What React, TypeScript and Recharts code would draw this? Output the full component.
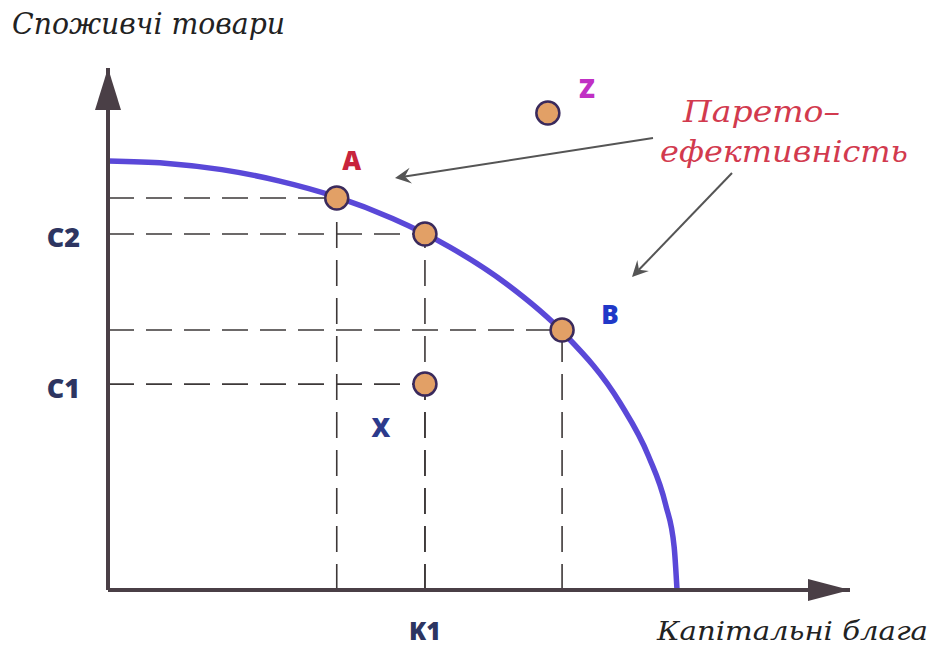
import { ComposedChart, Line, Scatter, XAxis, YAxis, ReferenceLine, ReferenceDot } from 'recharts';

// production possibility frontier
const frontierK = [0, 1, 2, 3, 4, 5, 6, 7, 8, 9, 9.5, 9.8, 9.95, 10];
const frontierC = [10, 9.95, 9.8, 9.54, 9.17, 8.66, 8.0, 7.14, 6.0, 4.36, 3.12, 1.99, 1.0, 0];

const pointNames = ['A', 'K1C2', 'B', 'X', 'Z'];
const pointK = [4.02, 5.57, 7.98, 5.57, 7.73];
const pointC = [9.14, 8.3, 6.06, 4.8, 11.12];
// points that get dashed guides to the axes
const guided = ['A', 'K1C2', 'B', 'X'];

const xTicks = [5.57];
const xTickLabels = ['K1'];
const yTicks = [4.8, 8.3];
const yTickLabels = ['C1', 'C2'];

const xMax = 13.04;
const yMax = 12.17;

const frontier = frontierK.map((k, i) => ({ x: k, y: frontierC[i] }));
const points = pointNames.map((n, i) => ({ name: n, x: pointK[i], y: pointC[i] }));

const labelStyle: Record<string, { dx: number; dy: number; color: string }> = {
  A: { dx: 15, dy: -38, color: '#c8243c' },
  B: { dx: 48, dy: -16, color: '#2038c8' },
  X: { dx: -44, dy: 43, color: '#2c3a8c' },
  Z: { dx: 39, dy: -25, color: '#c030c4' },
};

const axisColor = '#4a3f46';
const tickColor = '#2d3561';
const labelFont = "'Open Sans', sans-serif";

const PointDot = (props: any) => {
  const { cx, cy, payload } = props;
  const lab = labelStyle[payload.name];
  return (
    <g>
      <circle cx={cx} cy={cy} r={11.5} fill="#e2a066" stroke="#3a2a5c" strokeWidth={2.5} />
      {lab && (
        <text x={cx + lab.dx} y={cy + lab.dy} fill={lab.color} fontSize={26} fontWeight={800}
          fontFamily={labelFont} textAnchor="middle" dominantBaseline="central">
          {payload.name}
        </text>
      )}
    </g>
  );
};

const XTick = (props: any) => {
  const { x, y, payload } = props;
  const i = xTicks.indexOf(payload.value);
  return (
    <text x={x} y={y + 40} fill={tickColor} fontSize={25} fontWeight={800}
      fontFamily={labelFont} textAnchor="middle" dominantBaseline="central">
      {xTickLabels[i]}
    </text>
  );
};

const YTick = (props: any) => {
  const { x, y, payload } = props;
  const i = yTicks.indexOf(payload.value);
  return (
    <text x={x - 28} y={y + 3} fill={tickColor} fontSize={27} fontWeight={800}
      fontFamily={labelFont} textAnchor="end" dominantBaseline="central">
      {yTickLabels[i]}
    </text>
  );
};

const XArrow = (props: any) => {
  const { cx, cy } = props;
  return <polygon points={`${cx},${cy} ${cx - 42},${cy - 11} ${cx - 42},${cy + 11}`} fill={axisColor} />;
};

const YArrow = (props: any) => {
  const { cx, cy } = props;
  return <polygon points={`${cx},${cy} ${cx - 13},${cy + 42} ${cx + 13},${cy + 42}`} fill={axisColor} />;
};

// small annotation arrow with notched head
const Pointer = ({ x1, y1, x2, y2 }: { x1: number; y1: number; x2: number; y2: number }) => {
  const a = Math.atan2(y2 - y1, x2 - x1);
  const L = 16, W = 8, N = 10;
  const bx = x2 - L * Math.cos(a), by = y2 - L * Math.sin(a);
  const nx = x2 - N * Math.cos(a), ny = y2 - N * Math.sin(a);
  const px = -Math.sin(a) * W, py = Math.cos(a) * W;
  return (
    <g>
      <line x1={x1} y1={y1} x2={nx} y2={ny} stroke="#555" strokeWidth={2} />
      <polygon points={`${x2},${y2} ${bx + px},${by + py} ${nx},${ny} ${bx - px},${by - py}`} fill="#555" />
    </g>
  );
};

export default function App() {
  return (
    <div style={{ position: 'absolute', left: 0, top: 0, width: 933, height: 646, background: '#fff' }}>
      <ComposedChart width={933} height={646} margin={{ top: 68, right: 83, bottom: 16, left: 48 }}>
        <XAxis type="number" dataKey="x" domain={[0, xMax]} allowDataOverflow ticks={xTicks}
          tick={<XTick />} tickLine={false} tickSize={0} tickMargin={0} height={40}
          axisLine={{ stroke: axisColor, strokeWidth: 4 }} />
        <YAxis type="number" dataKey="y" domain={[0, yMax]} allowDataOverflow ticks={yTicks}
          tick={<YTick />} tickLine={false} tickSize={0} tickMargin={0} width={60}
          axisLine={{ stroke: axisColor, strokeWidth: 4 }} />
        {points.filter(p => guided.includes(p.name)).map(p => (
          <ReferenceLine key={'h' + p.name} segment={[{ x: 0, y: p.y }, { x: p.x, y: p.y }]}
            stroke="#3d3838" strokeWidth={1.6} strokeDasharray="26 12" />
        ))}
        {points.filter(p => guided.includes(p.name)).map(p => (
          <ReferenceLine key={'v' + p.name} segment={[{ x: p.x, y: 0 }, { x: p.x, y: p.y }]}
            stroke="#3d3838" strokeWidth={1.6} strokeDasharray="26 12" />
        ))}
        <Line data={frontier} dataKey="y" type="monotone" stroke="#5a48d8" strokeWidth={5.5}
          dot={false} activeDot={false} isAnimationActive={false} />
        <Scatter data={points} dataKey="y" shape={<PointDot />} isAnimationActive={false} />
        <ReferenceDot x={xMax} y={0} ifOverflow="visible" shape={<XArrow />} />
        <ReferenceDot x={0} y={yMax} ifOverflow="visible" shape={<YArrow />} />
      </ComposedChart>
      <svg width={933} height={646} style={{ position: 'absolute', left: 0, top: 0, pointerEvents: 'none' }}>
        <text x={12} y={34} fontSize={30} fontStyle="italic" fontFamily="'DejaVu Serif', serif"
          fill="#222" textLength={273} lengthAdjust="spacingAndGlyphs">Споживчі товари</text>
        <text x={657} y={640} fontSize={26} fontStyle="italic" fontFamily="'DejaVu Serif', serif"
          fill="#222" textLength={271} lengthAdjust="spacingAndGlyphs">Капітальні блага</text>
        <text x={683} y={122} fontSize={30} fontStyle="italic" fontFamily="'DejaVu Serif', serif"
          fill="#d23a4e" textLength={157} lengthAdjust="spacingAndGlyphs">Парето–</text>
        <text x={660} y={162} fontSize={30} fontStyle="italic" fontFamily="'DejaVu Serif', serif"
          fill="#d23a4e" textLength={248} lengthAdjust="spacingAndGlyphs">ефективність</text>
        <Pointer x1={653} y1={138} x2={395} y2={178} />
        <Pointer x1={732} y1={173} x2={632} y2={277} />
      </svg>
    </div>
  );
}
